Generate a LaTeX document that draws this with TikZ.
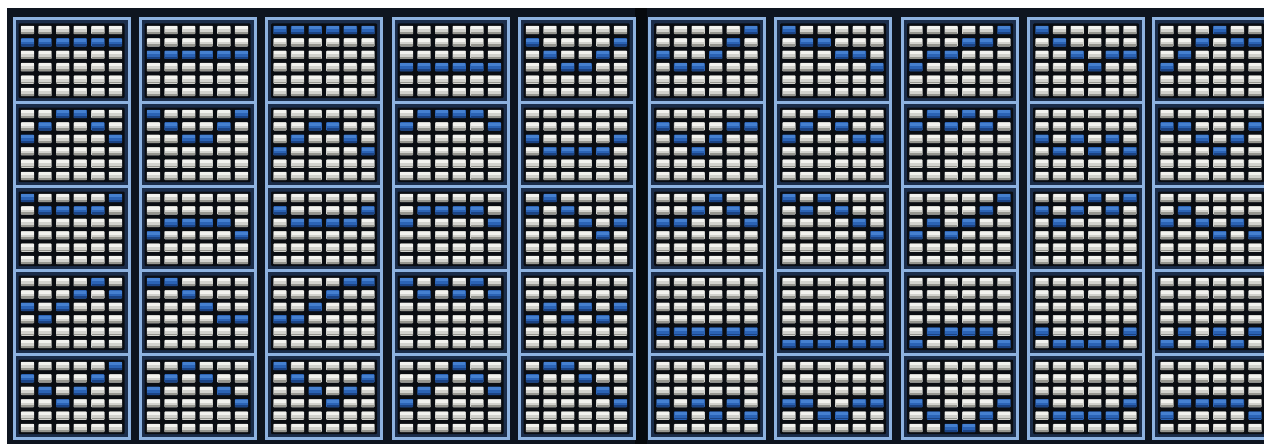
\documentclass[tikz,border=0pt]{standalone}
\definecolor{bgc}{HTML}{0E1520}
\definecolor{gapc}{HTML}{06090D}
\definecolor{framec}{HTML}{8DB2E0}
\definecolor{navyc}{HTML}{1B2D4A}
\definecolor{gridc}{HTML}{0A0D12}
\definecolor{wtop}{HTML}{F2F2EE}
\definecolor{wmid}{HTML}{D2D2CD}
\definecolor{wbot}{HTML}{96968F}
\definecolor{btop}{HTML}{4580D0}
\definecolor{bmid}{HTML}{2B63B5}
\definecolor{bbot}{HTML}{1B4384}
\newcommand\setpat[3]{\expandafter\def\csname pat#1x#2\endcsname{#3}}
\newcommand\setcol[6]{\setpat{#1}{0}{#2}\setpat{#1}{1}{#3}\setpat{#1}{2}{#4}\setpat{#1}{3}{#5}\setpat{#1}{4}{#6}}
\setcol{1}{2,2,2,2,2,2}{3,2,1,1,2,3}{1,2,2,2,2,1}{3,4,3,2,1,2}{2,3,4,3,2,1}
\setcol{2}{3,3,3,3,3,3}{1,2,3,3,2,1}{4,3,3,3,3,4}{1,1,2,3,4,4}{3,2,1,2,3,4}
\setcol{3}{1,1,1,1,1,1}{4,3,2,2,3,4}{2,3,3,3,3,2}{4,4,3,2,1,1}{1,2,3,4,3,2}
\setcol{4}{4,4,4,4,4,4}{2,1,1,1,1,2}{3,2,2,2,2,3}{1,2,1,2,1,2}{4,3,2,1,2,3}
\setcol{5}{2,3,4,4,3,2}{3,4,4,4,4,3}{2,1,2,3,4,3}{4,3,4,3,4,3}{2,1,1,2,3,4}
\setcol{6}{3,4,4,3,2,1}{2,3,4,3,2,2}{3,3,2,1,2,3}{5,5,5,5,5,5}{4,5,4,5,4,5}
\setcol{7}{1,2,2,3,3,4}{3,2,1,2,3,3}{1,2,1,2,3,4}{6,6,6,6,6,6}{4,4,5,5,4,4}
\setcol{8}{4,3,3,2,2,1}{2,1,2,1,2,1}{4,3,4,3,2,1}{6,5,5,5,5,6}{4,5,6,6,5,4}
\setcol{9}{1,2,3,4,3,3}{3,4,3,4,3,4}{2,3,2,1,2,1}{5,6,6,6,6,5}{4,5,5,5,5,4}
\setcol{10}{4,3,2,1,2,2}{2,2,3,4,3,2}{3,2,3,4,3,4}{6,5,6,5,6,5}{5,4,4,4,4,5}
\newcommand\drawcell[5]{%
  \fill[#4,rounded corners=0.8pt] (#1,#2) rectangle ++(13.3,8.4);
  \fill[#3] (#1+0.6,#2+0.5) rectangle ++(12.1,3.0);
  \fill[#5] (#1+0.4,#2+6.2) rectangle ++(12.5,1.8);
}
\tikzset{framestyle/.style={draw=framec,line width=3pt}}
\begin{document}
\begin{tikzpicture}[x=1pt,y=-1pt]
\useasboundingbox (0,0) rectangle (1264,444);
\clip (0,0) rectangle (1264,444);
\fill[white] (0,0) rectangle (1264,444);
\fill[bgc] (7,8) rectangle (1264,444);
\fill[gapc] (635,8) rectangle (647,444);
\foreach \c/\lx in {1/12.5,2/138.5,3/265,4/391.5,5/517.5,6/648,7/774,8/901,9/1027,10/1152}{
  \fill[navyc] (\lx+1.5,18.5) rectangle (\lx+116.5,438.5);
  \foreach \r in {0,...,4}{
    \pgfmathsetmacro\T{18.5+84*\r}
    \fill[gridc,rounded corners=1pt] (\lx+6,\T+5) rectangle (\lx+112,\T+79.5);
    \edef\pat{\csname pat\c x\r\endcsname}
    \foreach[count=\i from 0] \b in \pat{
      \pgfmathsetmacro\cx{\lx+8.3+17.6*\i}
      \foreach \j in {1,...,6}{
        \pgfmathsetmacro\cy{\T+7.3+12.4*(\j-1)}
        \ifnum\j=\b\relax
          \drawcell{\cx}{\cy}{btop}{bmid}{bbot}
        \else
          \drawcell{\cx}{\cy}{wtop}{wmid}{wbot}
        \fi
      }
    }
  }
  \draw[framestyle] (\lx+1.5,18.5) rectangle (\lx+116.5,438.5);
  \foreach \k in {1,...,4}{
    \draw[framestyle] (\lx+1.5,18.5+84*\k) -- (\lx+116.5,18.5+84*\k);
  }
}
\end{tikzpicture}
\end{document}
